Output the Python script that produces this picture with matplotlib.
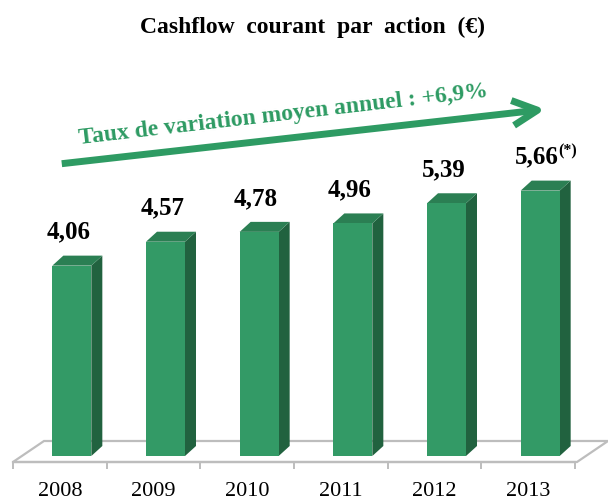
import matplotlib.pyplot as plt
from matplotlib.patches import Polygon, FancyArrowPatch

# data
years = ["2008", "2009", "2010", "2011", "2012", "2013"]
cashflow = [4.06, 4.57, 4.78, 4.96, 5.39, 5.66]
labels = ["4,06", "4,57", "4,78", "4,96", "5,39", "5,66"]
note = "(*)"
title = "Cashflow  courant  par  action  (€)"
trend_text = "Taux de variation moyen annuel : +6,9%"

front_col = "#339a66"
side_col = "#21623f"
top_col = "#2b7f53"
green = "#2e9b63"
floor_col = "#bdbdbd"

plt.rcParams["font.family"] = ["Liberation Serif", "DejaVu Serif"]

W, H = 608, 502
fig = plt.figure(figsize=(W / 100, H / 100), dpi=100)
ax = fig.add_axes([13 / W, 45 / H, 562 / W, 422 / H])
ax.set_xlim(-0.5, len(years) - 0.5)
ax.set_ylim(0, 9)
ax.patch.set_visible(False)

# pixel -> data scale
px_x = 562 / len(years)
px_y = 422 / 9.0

bar_w = 39 / px_x
shift = 12 / px_x
dx = 11 / px_x
dy = 10 / px_y

# floor
fdx = 31 / px_x
f_front = -6 / px_y
f_back = 15 / px_y
floor = Polygon([(-0.5, f_front), (len(years) - 0.5 + 2 / px_x, f_front),
                 (len(years) - 0.5 + 2 / px_x + fdx, f_back), (-0.5 + fdx, f_back)],
                closed=True, facecolor="white", edgecolor=floor_col, lw=1.6,
                clip_on=False, zorder=1)
ax.add_patch(floor)

xs = [i + shift for i in range(len(years))]
ax.bar(xs, cashflow, width=bar_w, color=front_col, zorder=3)
for x, v in zip(xs, cashflow):
    xl, xr = x - bar_w / 2, x + bar_w / 2
    side = Polygon([(xr, 0), (xr + dx, dy), (xr + dx, v + dy), (xr, v)],
                   closed=True, facecolor=side_col, edgecolor="none", zorder=2)
    top = Polygon([(xl, v), (xr, v), (xr + dx, v + dy), (xl + dx, v + dy)],
                  closed=True, facecolor=top_col, edgecolor="none", zorder=2)
    ax.add_patch(side)
    ax.add_patch(top)

# value labels
for i, (x, v, lab) in enumerate(zip(xs, cashflow, labels)):
    t = ax.annotate(lab, (x, v), xytext=(-3, 28), textcoords="offset pixels",
                    ha="center", va="baseline", fontsize=18, fontweight="bold")
    if i == len(years) - 1:
        ax.annotate(note, (1, 1), xycoords=t, xytext=(-1, 2), textcoords="offset pixels",
                    ha="left", va="top", fontsize=11.5, fontweight="bold")

# axis
for s in ["top", "right", "left"]:
    ax.spines[s].set_visible(False)
ax.spines["bottom"].set_position(("data", f_front))
ax.spines["bottom"].set_color(floor_col)
ax.spines["bottom"].set_linewidth(1.6)
ax.spines["bottom"].set_zorder(1)
ax.set_yticks([])
ax.set_xticks(range(len(years)))
ax.set_xticklabels(years, fontsize=16)
ax.set_xticks([i - 0.5 for i in range(len(years) + 1)], minor=True)
ax.tick_params(axis="x", which="major", length=0, pad=14)
ax.tick_params(axis="x", which="minor", length=5, width=1.4, color=floor_col)

# title
fig.text(312 / W, 1 - 33 / H, title, ha="center", va="baseline",
         fontsize=17, fontweight="bold")

# trend arrow
fig.add_artist(FancyArrowPatch(
    (59, H - 165), (548, H - 110), transform=None,
    arrowstyle="->,head_length=0.9,head_width=0.45", mutation_scale=20,
    color=green, lw=5, capstyle="butt", joinstyle="round"))
fig.text(284 / W, 1 - 120 / H, trend_text, ha="center", va="baseline",
         rotation=6.6, rotation_mode="anchor", color=green,
         fontsize=17, fontweight="bold")

fig.savefig("out.png", dpi=100)
